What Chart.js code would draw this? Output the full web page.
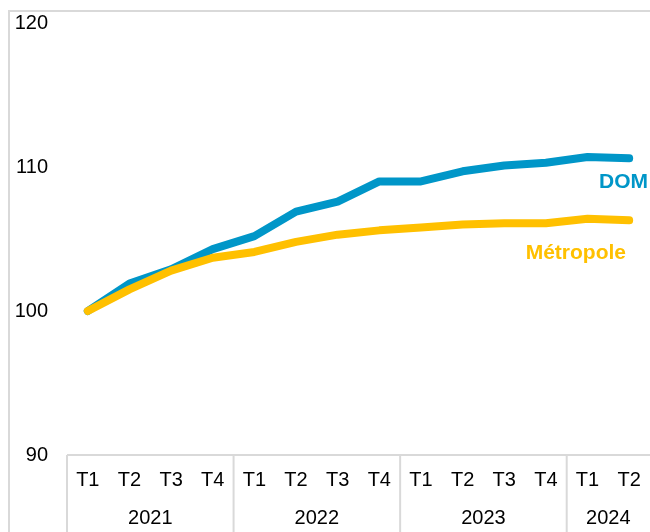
<!DOCTYPE html>
<html>
<head>
<meta charset="utf-8">
<script src="https://cdn.jsdelivr.net/npm/chart.js@4"></script>
<style>
  html, body { margin: 0; padding: 0; background: #fff; }
  #wrap { width: 650px; height: 532px; position: relative; }
</style>
</head>
<body>
<div id="wrap"><canvas id="main" width="650" height="532"></canvas></div>
<script>
// Données (base 100 = T1 2021)
const trimestres = ['T1', 'T2', 'T3', 'T4', 'T1', 'T2', 'T3', 'T4', 'T1', 'T2', 'T3', 'T4', 'T1', 'T2'];
const annees = ['2021', '2022', '2023', '2024'];
const trimestresParAnnee = [4, 4, 4, 2];
const domData = [100, 101.9, 102.9, 104.3, 105.2, 106.9, 107.6, 109.0, 109.0, 109.7, 110.1, 110.3, 110.7, 110.6];
const metropoleData = [100, 101.5, 102.8, 103.7, 104.1, 104.8, 105.3, 105.6, 105.8, 106.0, 106.1, 106.1, 106.4, 106.3];
const yTicks = [90, 100, 110, 120];

const domColor = '#0096c8';
const metroColor = '#ffc000';
const frameColor = '#d9d9d9';
const fontFamily = "'Liberation Sans', Arial, sans-serif";

/**
 * Dessine le cadre, la boîte des catégories et les années sous l'axe X.
 */
const cadrePlugin = {
    id: 'cadre',
    beforeDraw(chart) {
        const ctx = chart.ctx;
        ctx.save();
        ctx.strokeStyle = frameColor;
        ctx.lineWidth = 2;
        ctx.beginPath();
        ctx.moveTo(9, chart.height);
        ctx.lineTo(9, 11);
        ctx.lineTo(chart.width, 11);
        ctx.stroke();
        ctx.restore();
    },
    afterDraw(chart) {
        const ctx = chart.ctx;
        const x = chart.scales.x;
        const area = chart.chartArea;
        const half = (x.getPixelForValue(1) - x.getPixelForValue(0)) / 2;
        ctx.save();
        ctx.strokeStyle = frameColor;
        ctx.lineWidth = 2;
        ctx.beginPath();
        ctx.moveTo(area.left, area.bottom);
        ctx.lineTo(chart.width, area.bottom);
        ctx.stroke();

        ctx.fillStyle = '#000';
        ctx.font = '20px ' + fontFamily;
        ctx.textAlign = 'center';
        ctx.textBaseline = 'middle';
        let idx = 0;
        annees.forEach((annee, i) => {
            const n = trimestresParAnnee[i];
            const start = x.getPixelForValue(idx) - half;
            const end = x.getPixelForValue(idx + n - 1) + half;
            ctx.beginPath();
            ctx.moveTo(start, area.bottom);
            ctx.lineTo(start, chart.height);
            ctx.stroke();
            ctx.fillText(annee, (start + end) / 2, 518);
            idx += n;
        });

        // Libellés des séries
        ctx.font = 'bold 21px ' + fontFamily;
        ctx.textAlign = 'right';
        ctx.fillStyle = domColor;
        ctx.fillText('DOM', 648, 182);
        ctx.fillStyle = metroColor;
        ctx.fillText('Métropole', 626, 253);
        ctx.restore();
    }
};

new Chart(document.getElementById('main').getContext('2d'), {
    type: 'line',
    data: {
        labels: trimestres,
        datasets: [
            {
                label: 'Métropole',
                data: metropoleData,
                borderColor: metroColor,
                borderWidth: 8,
                pointRadius: 0,
                borderCapStyle: 'round',
                borderJoinStyle: 'round',
                tension: 0
            },
            {
                label: 'DOM',
                data: domData,
                borderColor: domColor,
                borderWidth: 8,
                pointRadius: 0,
                borderCapStyle: 'round',
                borderJoinStyle: 'round',
                tension: 0
            }
        ]
    },
    options: {
        responsive: false,
        animation: false,
        layout: { padding: { top: 23, right: 0, left: 0, bottom: 0 } },
        scales: {
            x: {
                offset: true,
                grid: { display: false, drawTicks: false },
                border: { display: false },
                ticks: {
                    color: '#000',
                    font: { family: fontFamily, size: 20 },
                    padding: 13,
                    maxRotation: 0,
                    autoSkip: false
                },
                afterFit(scale) {
                    scale.height = 77;
                    scale.paddingLeft = 0;
                    scale.paddingRight = 0;
                }
            },
            y: {
                min: 90,
                max: 120,
                grid: { display: false, drawTicks: false },
                border: { display: false },
                afterBuildTicks(scale) { scale.ticks = yTicks.map(v => ({ value: v })); },
                ticks: {
                    color: '#000',
                    font: { family: fontFamily, size: 20 },
                    padding: 19
                },
                afterFit(scale) {
                    scale.width = 67;
                    scale.paddingTop = 0;
                    scale.paddingBottom = 0;
                }
            }
        },
        plugins: {
            legend: { display: false },
            tooltip: { enabled: false }
        }
    },
    plugins: [cadrePlugin]
});
</script>
</body>
</html>
